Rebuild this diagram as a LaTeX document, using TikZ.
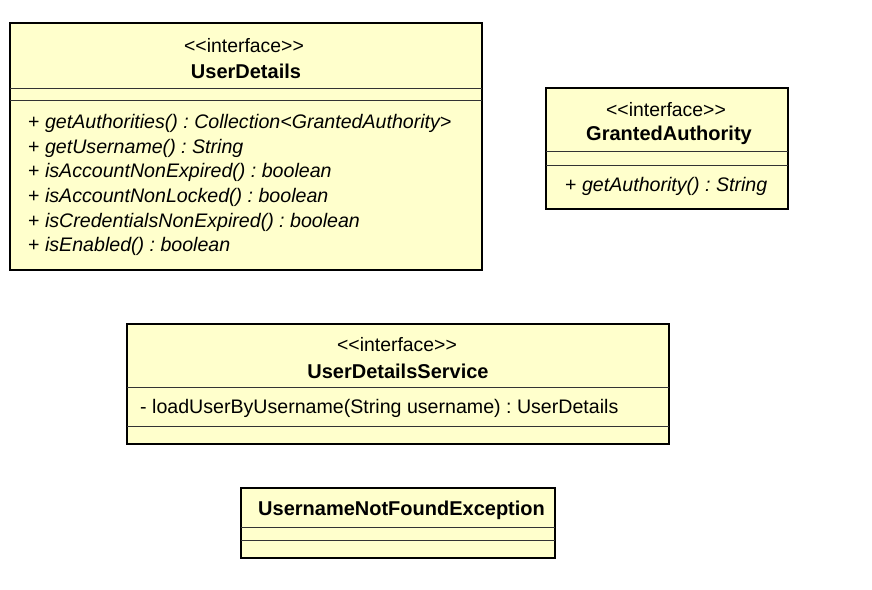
\documentclass[tikz,border=0pt]{standalone}
\usepackage{fontspec}
\newfontfamily\umlfont{Liberation Sans}
\usepackage{tikz}
\definecolor{umlyellow}{RGB}{255,255,204}
\frenchspacing

\begin{document}
\begin{tikzpicture}[x=1pt,y=-1pt,
    classbox/.style={draw=black, line width=2.5pt, fill=umlyellow},
    sepline/.style={line width=0.9pt, draw=black!80},
    stereo/.style={inner sep=0pt, font=\umlfont\fontsize{19.4}{23}\selectfont},
    classname/.style={inner sep=0pt, font=\umlfont\fontsize{20}{24}\selectfont\bfseries},
    member/.style={inner sep=0pt, anchor=west, font=\umlfont\fontsize{19.6}{23}\selectfont}]
    \useasboundingbox (0,0) rectangle (872,589);

    % UserDetails
    \draw[classbox] (10,23) rectangle (482,270);
    \draw[sepline] (10,88) -- (482,88);
    \draw[sepline] (10,100) -- (482,100);
    \node[stereo] (udStereo) at (244,46) {<<interface>>};
    \node[classname] (udName) at (246,71) {UserDetails};
    \node[member] (udOpA) at (28,123) {+ \textit{getAuthorities() : Collection<GrantedAuthority>}};
    \node[member] (udOpB) at (28,148) {+ \textit{getUsername() : String}};
    \node[member] (udOpC) at (28,172) {+ \textit{isAccountNonExpired() : boolean}};
    \node[member] (udOpD) at (28,197) {+ \textit{isAccountNonLocked() : boolean}};
    \node[member] (udOpE) at (28,222) {+ \textit{isCredentialsNonExpired() : boolean}};
    \node[member] (udOpF) at (28,246) {+ \textit{isEnabled() : boolean}};

    % GrantedAuthority
    \draw[classbox] (546,88) rectangle (788,209);
    \draw[sepline] (546,151) -- (788,151);
    \draw[sepline] (546,165) -- (788,165);
    \node[stereo] (gaStereo) at (666,110) {<<interface>>};
    \node[classname] (gaName) at (669,135) {GrantedAuthority};
    \node[member] (gaOp) at (565,186) {+ \textit{getAuthority() : String}};

    % UserDetailsService
    \draw[classbox] (127,324) rectangle (669,444);
    \draw[sepline] (127,387) -- (669,387);
    \draw[sepline] (127,426) -- (669,426);
    \node[stereo] (udsStereo) at (397,345) {<<interface>>};
    \node[classname] (udsName) at (398,371) {UserDetailsService};
    \node[member] (udsOp) at (140,408) {- loadUserByUsername(String username) : UserDetails};

    % UsernameNotFoundException
    \draw[classbox] (241,488) rectangle (555,558);
    \draw[sepline] (241,527) -- (555,527);
    \draw[sepline] (241,540) -- (555,540);
    \node[classname, anchor=west] (unfeName) at (258,510) {UsernameNotFoundException};
\end{tikzpicture}
\end{document}
